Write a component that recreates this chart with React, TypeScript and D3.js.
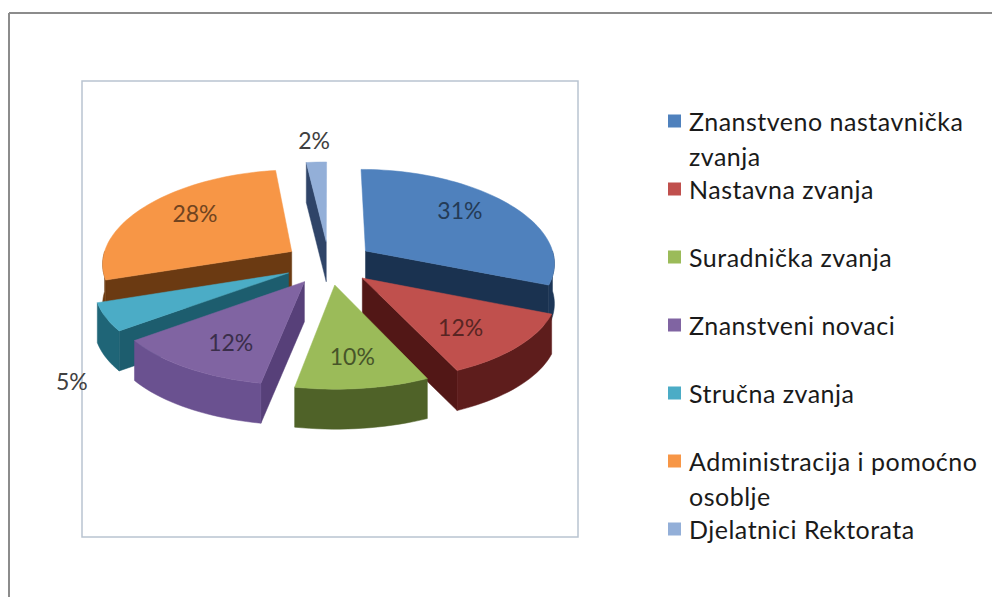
import React from "react";
import * as d3 from "d3";

const categories = [
  "Znanstveno nastavnička zvanja",
  "Nastavna zvanja",
  "Suradnička zvanja",
  "Znanstveni novaci",
  "Stručna zvanja",
  "Administracija i pomoćno osoblje",
  "Djelatnici Rektorata",
];
const values = [31, 12, 10, 12, 5, 28, 2];
const outsideLabel = [false, false, false, false, true, false, true];

const topColors = ["#4F81BD", "#C0504D", "#9BBB59", "#8064A2", "#4BACC6", "#F79646", "#93AFD8"];
const sideColors = ["#1d3657", "#5e1d1c", "#4f6228", "#6a5190", "#1f6577", "#6e3c12", "#2b4063"];
const wallColors = ["#1a3250", "#521716", "#45561f", "#574079", "#1d5d6e", "#6b3a12", "#2f4468"];

const W = 992;
const H = 597;
const CX = 329;
const CY = 263;
const RX = 190;
const RY = 92;
const PERSP = 0.09;
const PERSPX = 0.12;
const EXPLODE = 0.236;
const DEPTH = 40;
const FONT = "Lato, 'Open Sans', sans-serif";

function proj(u: number, v: number, h: number): [number, number] {
  return [CX + u * RX * (1 + PERSPX * v), CY + v * RY * (1 + PERSP * v) + h];
}

function wrap(text: string, maxChars: number): string[] {
  const words = text.split(" ");
  const lines: string[] = [];
  let cur = "";
  for (const w of words) {
    const next = cur ? cur + " " + w : w;
    if (next.length > maxChars && cur) {
      lines.push(cur);
      cur = w;
    } else cur = next;
  }
  if (cur) lines.push(cur);
  return lines;
}

export default function App() {
  const pie = d3.pie<number>().sort(null).startAngle(0).endAngle(2 * Math.PI);
  const arcs = pie(values);
  const total = d3.sum(values);
  const fmt = d3.format(".0%");
  const line = d3.line<[number, number]>();

  const slices = arcs.map((a, i) => {
    const a0 = a.startAngle;
    const a1 = a.endAngle;
    const b = (a0 + a1) / 2;
    const ou = EXPLODE * Math.sin(b);
    const ov = -EXPLODE * Math.cos(b);
    const rim = (t: number, h: number) => proj(ou + Math.sin(t), ov - Math.cos(t), h);
    const ctr = (h: number) => proj(ou, ov, h);
    const steps = (s: number, e: number) => {
      const n = Math.max(2, Math.ceil(((e - s) / (2 * Math.PI)) * 180));
      return d3.range(n + 1).map((k) => s + ((e - s) * k) / n);
    };
    const topPts: [number, number][] = [ctr(0), ...steps(a0, a1).map((t) => rim(t, 0))];
    const faces: { d: string; fill: string }[] = [];
    if (Math.sin(a0) < -1e-6) {
      faces.push({ d: line([ctr(0), rim(a0, 0), rim(a0, DEPTH), ctr(DEPTH)])! + "Z", fill: wallColors[i] });
    }
    if (Math.sin(a1) > 1e-6) {
      faces.push({ d: line([ctr(0), rim(a1, 0), rim(a1, DEPTH), ctr(DEPTH)])! + "Z", fill: wallColors[i] });
    }
    const s0 = Math.max(a0, Math.PI / 2);
    const s1 = Math.min(a1, (3 * Math.PI) / 2);
    if (s1 > s0) {
      const ts = steps(s0, s1);
      const pts = [...ts.map((t) => rim(t, 0)), ...ts.slice().reverse().map((t) => rim(t, DEPTH))];
      faces.push({ d: line(pts)! + "Z", fill: sideColors[i] });
    }
    // label
    let lx: number, ly: number;
    if (!outsideLabel[i]) {
      const r = EXPLODE + 0.65;
      const v = -r * Math.cos(b);
      lx = CX + r * Math.sin(b) * RX * (1 + PERSPX * v);
      ly = CY + v * RY * 1.15;
    } else {
      const near = -Math.cos(b) > 0;
      const [ax, ay] = rim(b, near ? DEPTH : 0);
      const d = 22;
      lx = ax + Math.sin(b) * (d + 16);
      ly = ay - Math.cos(b) * (d + (near ? 30 : 0));
    }
    return {
      i,
      depth: -Math.cos(b),
      top: line(topPts)! + "Z",
      faces,
      lx,
      ly,
      label: fmt(values[i] / total),
      labelColor: outsideLabel[i] ? "#404040" : d3.color(topColors[i])!.darker(2.2).formatHex(),
    };
  });

  const ordered = slices.slice().sort((a, b) => a.depth - b.depth);

  const legendX = 668;
  const legendY0 = 121;
  const legendStep = 68;
  const lineStep = 35;

  return (
    <svg
      width={W}
      height={H}
      style={{ position: "absolute", left: 0, top: 0, background: "#fff" }}
      fontFamily={FONT}
    >
      <rect x={0} y={0} width={W} height={H} fill="#ffffff" />
      {/* outer frame */}
      <line x1={9} y1={13} x2={W} y2={13} stroke="#8c8c8c" strokeWidth={2} />
      <line x1={9} y1={13} x2={9} y2={H} stroke="#8c8c8c" strokeWidth={2} />
      {/* plot area */}
      <rect x={82} y={81} width={496} height={456} fill="none" stroke="#b9c4d1" strokeWidth={1.5} />

      {ordered.map((s) => (
        <g key={s.i}>
          {s.faces.map((f, k) => (
            <path key={k} d={f.d} fill={f.fill} stroke={f.fill} strokeWidth={0.5} strokeLinejoin="round" />
          ))}
          <path d={s.top} fill={topColors[s.i]} stroke={topColors[s.i]} strokeWidth={0.5} strokeLinejoin="round" />
        </g>
      ))}

      {slices.map((s) => (
        <text
          key={"l" + s.i}
          x={s.lx}
          y={s.ly}
          textAnchor="middle"
          dominantBaseline="central"
          fontSize={23}
          fill={s.labelColor}
        >
          {s.label}
        </text>
      ))}

      {categories.map((c, i) => {
        const y = legendY0 + i * legendStep;
        const lines = wrap(c, 24);
        return (
          <g key={"lg" + i}>
            <rect x={legendX} y={y - 6.5} width={13} height={13} fill={topColors[i]} />
            {lines.map((ln, k) => (
              <text
                key={k}
                x={legendX + 21}
                y={y + k * lineStep}
                dominantBaseline="central"
                fontSize={25}
                letterSpacing={0.5}
                fill="#1a1a1a"
              >
                {ln}
              </text>
            ))}
          </g>
        );
      })}
    </svg>
  );
}
